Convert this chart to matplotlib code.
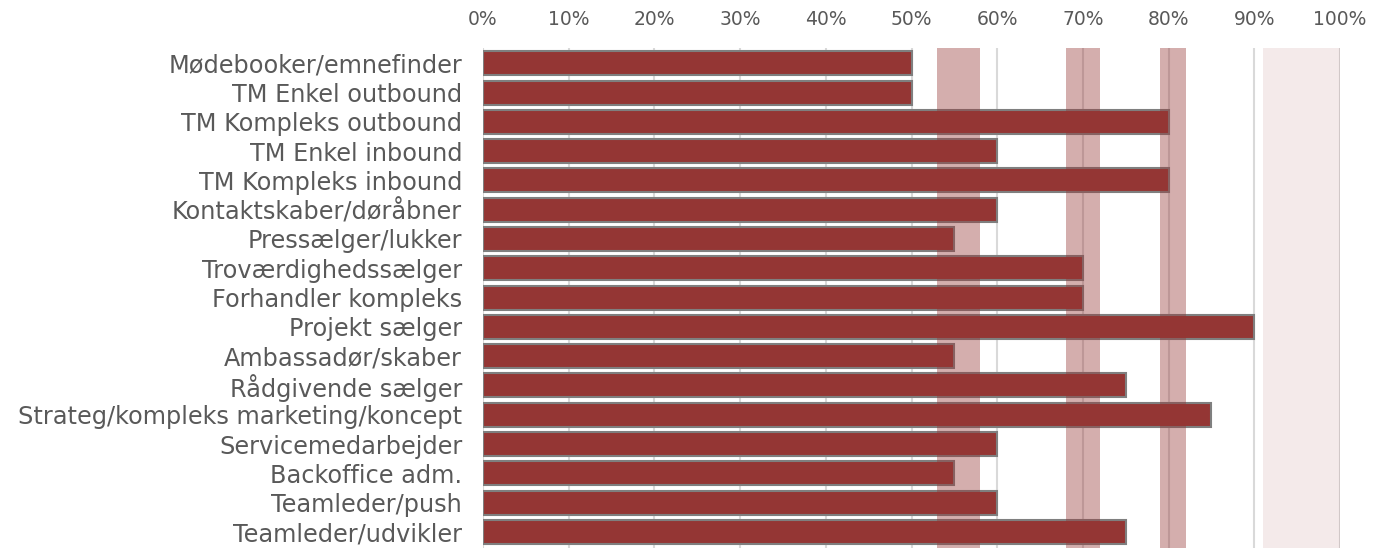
import numpy as np
import matplotlib.pyplot as plt
from matplotlib.ticker import PercentFormatter

roles = ["Mødebooker/emnefinder", "TM Enkel outbound", "TM Kompleks outbound",
         "TM Enkel inbound", "TM Kompleks inbound", "Kontaktskaber/døråbner",
         "Pressælger/lukker", "Troværdighedssælger", "Forhandler kompleks",
         "Projekt sælger", "Ambassadør/skaber", "Rådgivende sælger",
         "Strateg/kompleks marketing/koncept", "Servicemedarbejder",
         "Backoffice adm.", "Teamleder/push", "Teamleder/udvikler"]
values = [50, 50, 80, 60, 80, 60, 55, 70, 70, 90, 55, 75, 85, 60, 55, 60, 75]

# shaded bands (start, end) in percent
bands = [(53, 58), (68, 72), (79, 82)]
light_band = (91, 100)

bar_col = "#943634"
txt_col = "#595959"

fig = plt.figure(figsize=(13.83, 5.5), dpi=100)
ax = fig.add_axes([483/1383, 2/550, (1340-483)/1383, 500/550])

y = np.arange(len(roles))
ax.barh(y, values, height=0.82, color=bar_col, edgecolor="#7f7f7f", linewidth=1.5, zorder=2)

for a, b in bands:
    ax.axvspan(a, b, color=bar_col, alpha=0.4, lw=0, zorder=3)
ax.axvspan(light_band[0], light_band[1], color=bar_col, alpha=0.1, lw=0, zorder=1)

ax.set_xlim(0, 100)
ax.set_ylim(len(roles) - 0.45, -0.52)
ax.set_xticks(np.arange(0, 101, 10))
ax.xaxis.set_major_formatter(PercentFormatter(decimals=0))
ax.xaxis.tick_top()
ax.set_yticks(y)
ax.set_yticklabels(roles)
ax.tick_params(axis="both", length=0, colors=txt_col)
ax.tick_params(axis="x", pad=14, labelsize=13.5)
ax.tick_params(axis="y", pad=15, labelsize=17.3)
ax.grid(axis="x", color="#d9d9d9", linewidth=1.5, zorder=0)
ax.set_axisbelow(True)
for s in ax.spines.values():
    s.set_visible(False)

plt.savefig("out.png", dpi=100)
